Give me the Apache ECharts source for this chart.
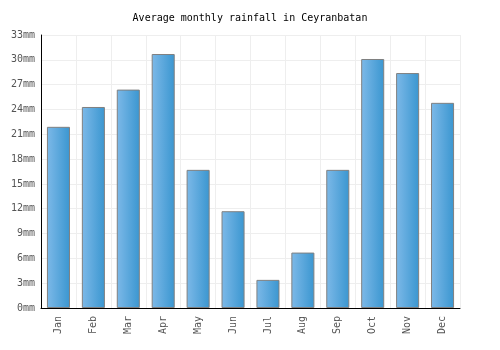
<!DOCTYPE html>
<html>
<head>
<meta charset="utf-8">
<script src="https://cdn.jsdelivr.net/npm/echarts@6/dist/echarts.min.js"></script>
<style>
  html, body { margin: 0; padding: 0; background: #fff; }
  #chart { width: 500px; height: 350px; }
</style>
</head>
<body>
<div id="chart"></div>
<script>
// rainfall per month, mm
const months = ['Jan', 'Feb', 'Mar', 'Apr', 'May', 'Jun', 'Jul', 'Aug', 'Sep', 'Oct', 'Nov', 'Dec']
const rainfall = [21.9, 24.3, 26.4, 30.7, 16.7, 11.7, 3.4, 6.7, 16.7, 30.1, 28.4, 24.8]

const font = '"DejaVu Sans Mono", monospace'

const chart = echarts.init(document.getElementById('chart'))
chart.setOption({
  animation: false,
  title: {
    text: 'Average monthly rainfall in Ceyranbatan',
    left: 'center',
    top: 8,
    textStyle: {
      fontFamily: font,
      fontSize: 10,
      fontWeight: 'normal',
      color: '#000'
    }
  },
  grid: {
    left: 41,
    right: 40,
    top: 35,
    bottom: 42
  },
  xAxis: {
    type: 'category',
    data: months,
    axisLine: { lineStyle: { color: '#000', width: 1 } },
    axisTick: { show: false },
    axisLabel: {
      rotate: 90,
      fontFamily: font,
      fontSize: 10,
      color: '#555',
      margin: 8
    },
    splitLine: {
      show: true,
      lineStyle: { color: '#eeeeee', width: 1 }
    }
  },
  yAxis: {
    type: 'value',
    min: 0,
    max: 33,
    interval: 3,
    axisLine: { show: true, lineStyle: { color: '#000', width: 1 } },
    axisTick: { show: false },
    axisLabel: {
      fontFamily: font,
      fontSize: 10,
      color: '#555',
      margin: 6,
      formatter: '{value}mm'
    },
    splitLine: {
      lineStyle: { color: '#eeeeee', width: 1 }
    }
  },
  series: [
    {
      type: 'bar',
      data: rainfall,
      barWidth: '66%',
      itemStyle: {
        color: new echarts.graphic.LinearGradient(0, 0, 1, 0, [
          { offset: 0, color: '#7db9e8' },
          { offset: 1, color: '#3a96d0' }
        ]),
        borderColor: '#808080',
        borderWidth: 1
      }
    }
  ]
})
</script>
</body>
</html>
